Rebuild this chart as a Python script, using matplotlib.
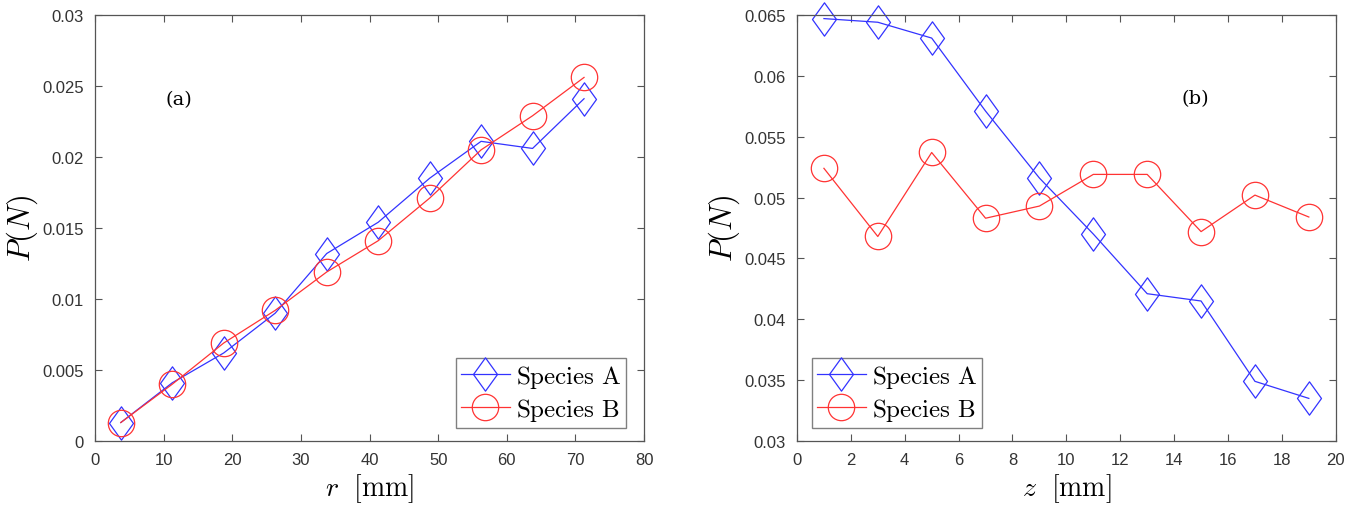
import matplotlib.pyplot as plt
from matplotlib.path import Path

plt.rcParams['mathtext.fontset'] = 'cm'

# радиальная зависимость (a)
r_mm = [3.75, 11.25, 18.75, 26.25, 33.75, 41.25, 48.75, 56.25, 63.75, 71.25]
p_r_a = [0.0013, 0.0041, 0.0062, 0.0090, 0.0132, 0.0154, 0.0185, 0.0211, 0.0206, 0.0241]
p_r_b = [0.0013, 0.0040, 0.0069, 0.0092, 0.0119, 0.0141, 0.0171, 0.0205, 0.0229, 0.0256]

# осевая зависимость (b)
z_mm = [1, 3, 5, 7, 9, 11, 13, 15, 17, 19]
p_z_a = [0.0647, 0.0644, 0.0631, 0.0571, 0.0516, 0.0470, 0.0421, 0.0415, 0.0349, 0.0335]
p_z_b = [0.0524, 0.0468, 0.0537, 0.0483, 0.0493, 0.0519, 0.0519, 0.0472, 0.0502, 0.0484]

legend_names = ['Species A', 'Species B']

# ромб как в MATLAB: выше, чем шире
diamond = Path([(0, 1), (0.72, 0), (0, -1), (-0.72, 0), (0, 1)],
               [Path.MOVETO, Path.LINETO, Path.LINETO, Path.LINETO, Path.CLOSEPOLY])

axis_color = '#333333'
spine_color = '#555555'
blue = (0.2, 0.2, 1.0)
red = (1.0, 0.2, 0.2)


def style_axes(ax):
    ax.tick_params(direction='in', top=True, right=True, length=5, width=0.8,
                   color=spine_color, labelcolor=axis_color, labelsize=12, pad=8)
    for lab in ax.get_xticklabels() + ax.get_yticklabels():
        lab.set_family('Liberation Sans')
    for s in ax.spines.values():
        s.set_color(spine_color)
        s.set_linewidth(0.9)


def draw(ax, x, ya, yb):
    ax.plot(x, ya, color=blue, lw=0.9, marker=diamond, ms=24, mfc='none', mew=0.9,
            clip_on=False, label=r'$\mathrm{%s}$' % legend_names[0].replace(' ', r'\ '))
    ax.plot(x, yb, color=red, lw=0.9, marker='o', ms=19, mfc='none', mew=0.9,
            clip_on=False, label=r'$\mathrm{%s}$' % legend_names[1].replace(' ', r'\ '))


def add_legend(ax, loc, anchor):
    ax.legend(loc=loc, bbox_to_anchor=anchor, fontsize=18, fancybox=False,
              edgecolor='0.5', framealpha=1, handlelength=1.95, handletextpad=0.25,
              borderpad=0.2, labelspacing=0.25, borderaxespad=0)


fig = plt.figure(figsize=(13.64, 5.06), dpi=100)
ax1 = fig.add_axes([0.0697, 0.1265, 0.4025, 0.842])
ax2 = fig.add_axes([0.5843, 0.1265, 0.395, 0.842])

draw(ax1, r_mm, p_r_a, p_r_b)
ax1.set_xlim(0, 80)
ax1.set_ylim(0, 0.03)
ax1.set_xticks(range(0, 81, 10))
ax1.set_yticks([0, 0.005, 0.01, 0.015, 0.02, 0.025, 0.03])
ax1.set_yticklabels(['0', '0.005', '0.01', '0.015', '0.02', '0.025', '0.03'])
ax1.set_xlabel(r'$r\ \ [\mathrm{mm}]$', fontsize=20, labelpad=3)
ax1.set_ylabel(r'$P(N)$', fontsize=22, labelpad=2)
ax1.text(12.2, 0.0241, '(a)', fontsize=14, family='DejaVu Serif', ha='center', va='center')
style_axes(ax1)
add_legend(ax1, 'lower right', (0.967, 0.0305))

draw(ax2, z_mm, p_z_a, p_z_b)
ax2.set_xlim(0, 20)
ax2.set_ylim(0.03, 0.065)
ax2.set_xticks(range(0, 21, 2))
ax2.set_yticks([0.03, 0.035, 0.04, 0.045, 0.05, 0.055, 0.06, 0.065])
ax2.set_yticklabels(['0.03', '0.035', '0.04', '0.045', '0.05', '0.055', '0.06', '0.065'])
ax2.set_xlabel(r'$z\ \ [\mathrm{mm}]$', fontsize=20, labelpad=3)
ax2.set_ylabel(r'$P(N)$', fontsize=22, labelpad=2)
ax2.text(14.8, 0.0582, '(b)', fontsize=14, family='DejaVu Serif', ha='center', va='center')
style_axes(ax2)
add_legend(ax2, 'lower left', (0.028, 0.0305))

fig.savefig('out.png', dpi=100)
